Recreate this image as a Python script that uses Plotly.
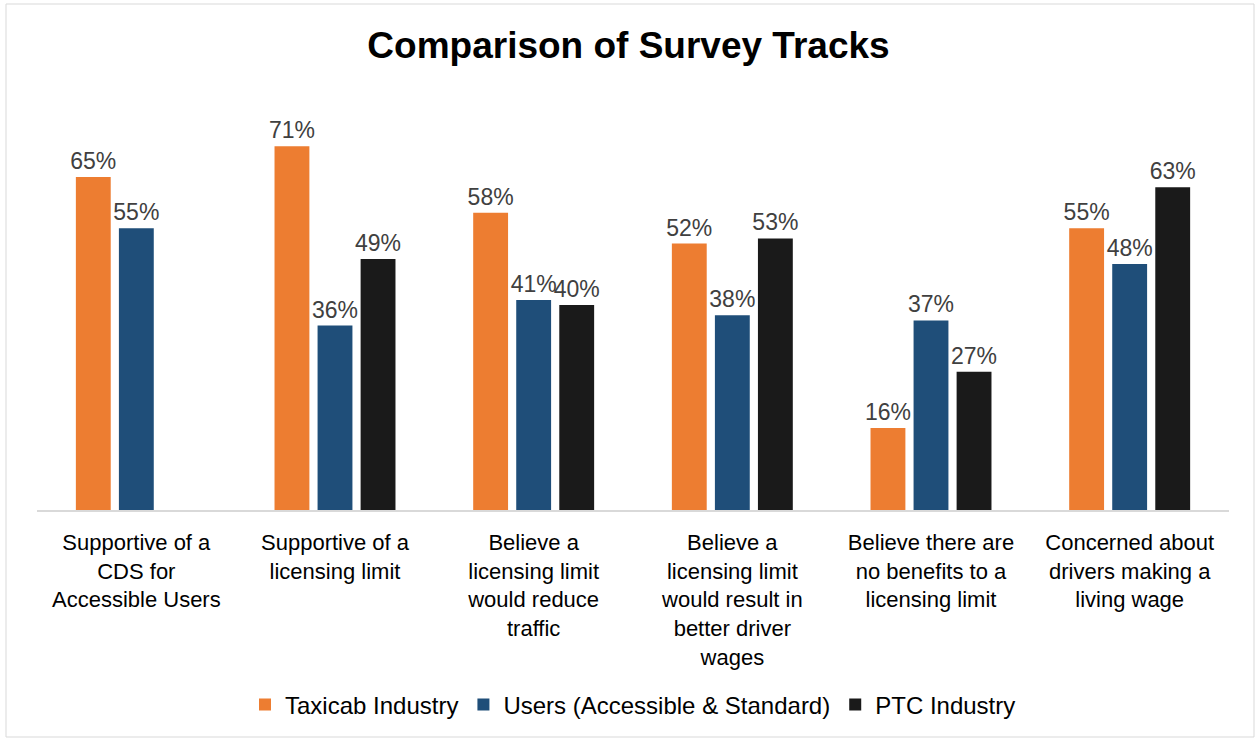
import plotly.graph_objects as go

categories = [
    "Supportive of a<br>CDS for<br>Accessible Users",
    "Supportive of a<br>licensing limit",
    "Believe a<br>licensing limit<br>would reduce<br>traffic",
    "Believe a<br>licensing limit<br>would result in<br>better driver<br>wages",
    "Believe there are<br>no benefits to a<br>licensing limit",
    "Concerned about<br>drivers making a<br>living wage",
]
taxicab = [65, 71, 58, 52, 16, 55]
users = [55, 36, 41, 38, 37, 48]
ptc = [None, 49, 40, 53, 27, 63]

series = [
    ("Taxicab Industry", taxicab, "#ED7D31"),
    ("Users (Accessible & Standard)", users, "#1F4E79"),
    ("PTC Industry", ptc, "#1A1A1A"),
]

FONT = "Arial, Liberation Sans, sans-serif"

fig = go.Figure()
for name, vals, color in series:
    fig.add_trace(go.Bar(
        name=name,
        x=categories,
        y=vals,
        marker=dict(color=color, line=dict(width=0)),
        text=[f"{v}%" if v is not None else "" for v in vals],
        textposition="outside",
        constraintext="none",
        textfont=dict(family=FONT, size=23, color="#404040"),
        cliponaxis=False,
    ))

W, H = 1257, 740
ml, mr, mt, mb = 37, 28, 100, 230
fig.update_layout(
    width=W, height=H,
    barmode="group",
    bargap=0.35,
    bargroupgap=0.19,
    plot_bgcolor="white",
    paper_bgcolor="white",
    margin=dict(l=ml, r=mr, t=mt, b=mb, autoexpand=False),
    title=dict(text="<b>Comparison of Survey Tracks</b>", x=0.5, xanchor="center",
               y=1 - 45 / H, yanchor="middle",
               font=dict(family=FONT, size=37, color="black")),
    font=dict(family=FONT, size=22, color="black"),
    xaxis=dict(showline=True, linecolor="#D9D9D9", linewidth=1.5, ticks="",
               ticklabelstandoff=12,
               tickfont=dict(family=FONT, size=22, color="black"), showgrid=False,
               automargin=False),
    yaxis=dict(range=[0, 80], visible=False, showgrid=False, automargin=False),
    legend=dict(orientation="h", x=0.5, xanchor="center", y=-(mb - 35) / (H - mt - mb), yanchor="middle",
                font=dict(family=FONT, size=24, color="black"), itemwidth=30,
                traceorder="normal"),
    showlegend=True,
)
ph = H - mt - mb
pw = W - ml - mr
fig.add_shape(type="rect", xref="paper", yref="paper",
              x0=(6 - ml) / pw, x1=(W - 3 - ml) / pw,
              y0=-(mb - 3) / ph, y1=1 + (mt - 4) / ph,
              line=dict(color="#D9D9D9", width=1), fillcolor="rgba(0,0,0,0)", layer="below")

fig.write_html("out.html", config={"displayModeBar": False},
               post_script="document.body.style.margin='0';")
